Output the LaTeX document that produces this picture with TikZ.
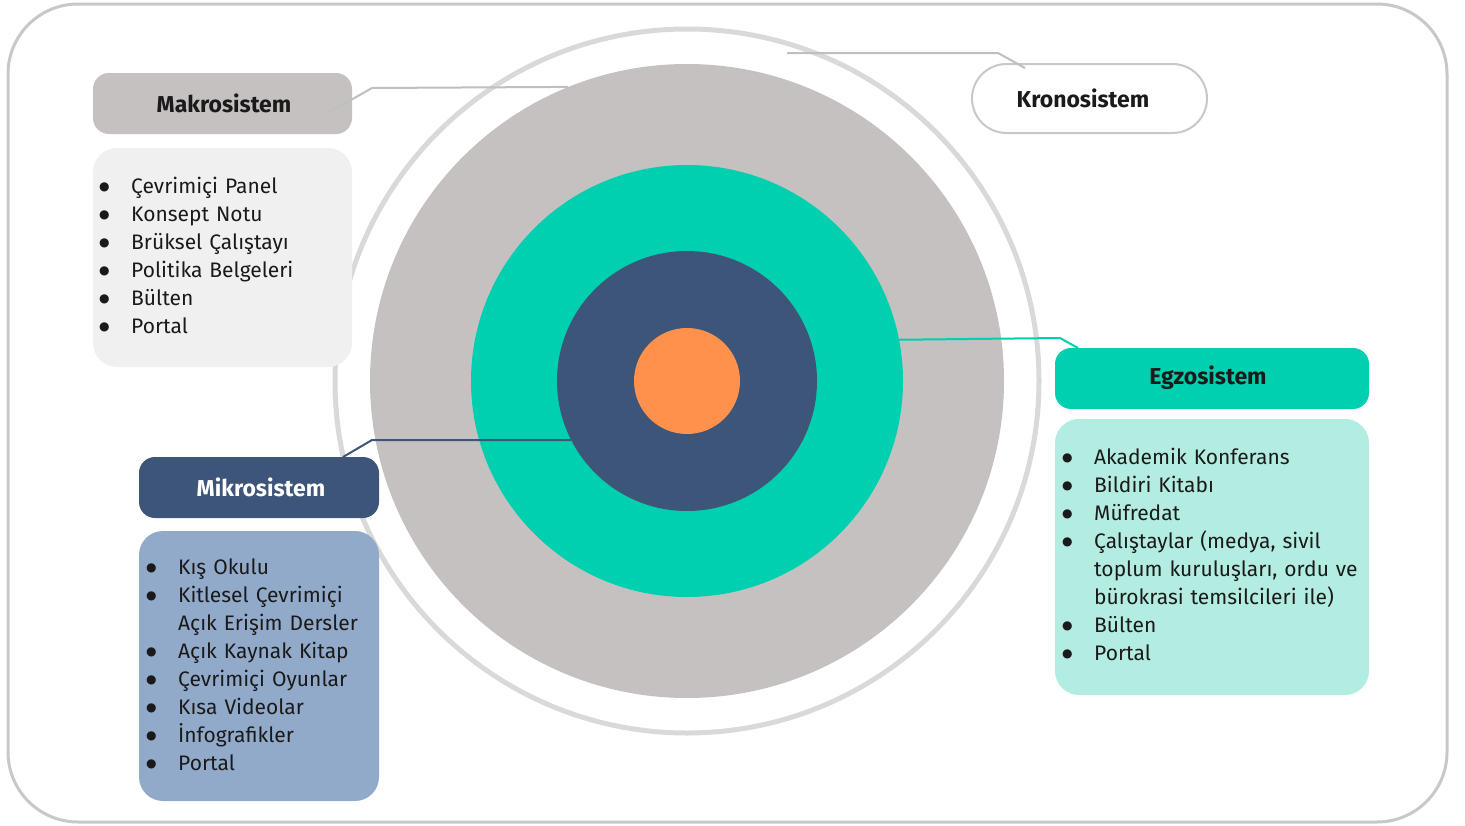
\documentclass[tikz,border=0pt]{standalone}
\usepackage{fontspec}
\setmainfont{Fira Sans}
\newfontfamily\dotfont{DejaVu Sans}
\definecolor{framecol}{HTML}{C8C8C8}
\definecolor{ringcol}{HTML}{D9D9D9}
\definecolor{macrocol}{HTML}{C5C1C0}
\definecolor{exocol}{HTML}{00D0AF}
\definecolor{exolight}{HTML}{B3ECE1}
\definecolor{microcol}{HTML}{3D5579}
\definecolor{microlight}{HTML}{91AACA}
\definecolor{corecol}{HTML}{FF914D}
\definecolor{macrolight}{HTML}{F0F0F0}
\definecolor{lnmacro}{HTML}{BFBFBF}
\definecolor{txt}{HTML}{1A1A1A}
\newcommand\bulletdot{\raisebox{3pt}{\dotfont\fontsize{12}{12}\selectfont ●}}
\newcommand\bitem[1]{\par\noindent\hangindent=32pt\hangafter=1\makebox[32pt][l]{\rule{0pt}{20pt}\bulletdot}#1}
\tikzset{
  disk/.style={circle,inner sep=0pt,draw=none},
  hdr/.style={rounded corners=16pt,inner sep=0pt},
  hdrtxt/.style={inner sep=0pt,font=\fontsize{23}{26}\selectfont\bfseries,text=txt},
  listbox/.style={rounded corners=24pt},
  listtxt/.style={anchor=north west,inner sep=0pt,align=left,text=txt,
    font=\fontsize{21}{28}\selectfont},
  conn/.style={line width=2pt},
}
\begin{document}
\begin{tikzpicture}[x=1pt,y=-1pt]
\useasboundingbox (0,0) rectangle (1465,825);
% frame
\draw[framecol,line width=3pt,rounded corners=70pt] (8,4) rectangle (1447,822);
% circles
\draw[ringcol,line width=5pt] (687,381) circle[radius=352pt];
\node[disk,fill=macrocol,minimum size=634pt] (macro) at (687,381) {};
\node[disk,fill=exocol,minimum size=432pt] (exo) at (687,381) {};
\node[disk,fill=microcol,minimum size=260pt] (micro) at (687,381) {};
\node[disk,fill=corecol,minimum size=106pt] (core) at (687,381) {};
% Makrosistem
\node[hdr,fill=macrocol,minimum width=259pt,minimum height=61pt] (mkh) at (222.5,103.5) {};
\node[hdrtxt] (mkt) at (224,103) {Makrosistem};
\fill[macrolight,listbox] (93,148) rectangle (352,367);
\node[listtxt,text width=250pt] (mkl) at (99,165) {%
\bitem{Çevrimiçi Panel}\bitem{Konsept Notu}\bitem{Brüksel Çalıştayı}\bitem{Politika Belgeleri}\bitem{Bülten}\bitem{Portal}};
% Kronosistem
\node[hdr,fill=white,draw=framecol,line width=2pt,rounded corners=34.5pt,minimum width=235pt,minimum height=69pt] (krh) at (1089.5,98.5) {};
\node[hdrtxt] (krt) at (1083,98) {Kronosistem};
% Egzosistem
\node[hdr,fill=exocol,minimum width=314pt,minimum height=61pt] (egh) at (1212,378.5) {};
\node[hdrtxt] (egt) at (1208,378) {Egzosistem};
\fill[exolight,listbox] (1055,419) rectangle (1369,695);
\node[listtxt,text width=310pt] (egl) at (1062,436) {%
\bitem{Akademik Konferans}\bitem{Bildiri Kitabı}\bitem{Müfredat}\bitem{Çalıştaylar (medya, sivil\newline toplum kuruluşları, ordu ve\newline bürokrasi temsilcileri ile)}\bitem{Bülten}\bitem{Portal}};
% Mikrosistem
\node[hdr,fill=microcol,minimum width=240pt,minimum height=61pt] (mih) at (259,487.5) {};
\node[hdrtxt,text=white] (mit) at (261,487) {Mikrosistem};
\fill[microlight,listbox] (139,531) rectangle (379,801);
\node[listtxt,text width=240pt] (mil) at (146,546) {%
\bitem{Kış Okulu}\bitem{Kitlesel Çevrimiçi\newline Açık Erişim Dersler}\bitem{Açık Kaynak Kitap}\bitem{Çevrimiçi Oyunlar}\bitem{Kısa Videolar}\bitem{İnfografikler}\bitem{Portal}};
% connectors
\coordinate (mkstart) at (328,113);
\coordinate (krend) at (787,53);
\coordinate (krstart) at (1025,68);
\coordinate (egstart) at (1078,348);
\coordinate (mistart) at (343,457);
\draw[conn,lnmacro] (mkstart) -- (372,88) -- (macro.112.4);
\draw[conn,lnmacro] (krstart) -- (998,53) -- (krend);
\draw[conn,exocol] (egstart) -- (1060,338) -- (exo.11.5);
\draw[conn,microcol] (mistart) -- (372,440) -- (micro.207.2);
\end{tikzpicture}
\end{document}
